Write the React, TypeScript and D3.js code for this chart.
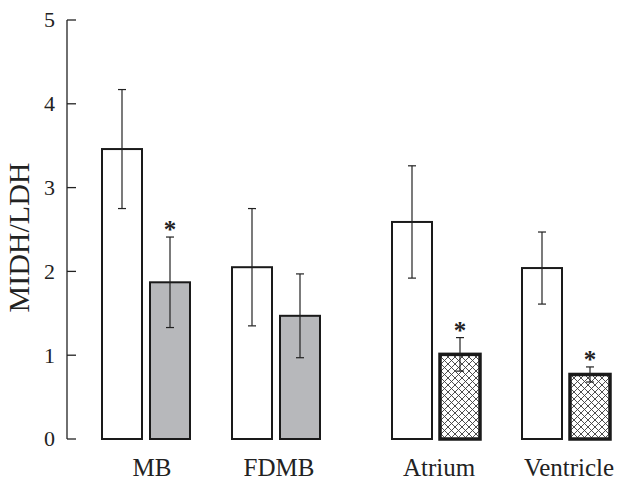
import React from 'react';
import * as d3 from 'd3';

// groups of the figure, two experiments side by side
const categories = ['MB', 'FDMB', 'Atrium', 'Ventricle'];
const sectionOf = ['s1', 's1', 's2', 's2'];
const controlMeans = [3.46, 2.05, 2.59, 2.04];
const controlErr = [0.71, 0.70, 0.67, 0.43];
const treatedMeans = [1.87, 1.47, 1.01, 0.77];
const treatedErr = [0.54, 0.50, 0.20, 0.09];
const significant = [true, false, true, true];
const yTicks = [0, 1, 2, 3, 4, 5];

const width = 618;
const height = 483;
const font = "'Liberation Serif', 'Times New Roman', Times, serif";
const ink = '#222';

const yScale = d3.scaleLinear().domain([0, 5]).range([439, 20]);

const sections = Array.from(new Set(sectionOf));
const xSection = d3.scaleBand()
    .domain(sections)
    .range([81, 631])
    .paddingInner(30 / 290);

const xGroup = d3.scaleBand()
    .domain(['0', '1'])
    .range([0, xSection.bandwidth()]);

const xPair = d3.scaleBand()
    .domain(['control', 'treated'])
    .range([21, 109])
    .paddingInner(8 / 48);

const localIndex = (i) => sectionOf.slice(0, i).filter(s => s === sectionOf[i]).length;
const groupX = (i) => xSection(sectionOf[i]) + xGroup(String(localIndex(i)));
const groupCenter = (i) => groupX(i) + xGroup.bandwidth() / 2;

const txt = { fontFamily: font };

const ErrorBar = ({ cx, mean, err }) => {
    const top = yScale(mean + err);
    const bottom = yScale(mean - err);
    return (
        <g stroke={ink} strokeWidth={1.2}>
            <line x1={cx} x2={cx} y1={top} y2={bottom} />
            <line x1={cx - 4} x2={cx + 4} y1={top} y2={top} />
            <line x1={cx - 4} x2={cx + 4} y1={bottom} y2={bottom} />
        </g>
    );
};

const App = () => {
    const axisX = 67;
    const bw = xPair.bandwidth();

    return (
        <svg width={width} height={height}
            style={{ position: 'absolute', left: 0, top: 0, display: 'block', background: '#fff' }}>
            <defs>
                <pattern id="xhatch" patternUnits="userSpaceOnUse" width={7} height={7}>
                    <rect width={7} height={7} fill="#fff" />
                    <path d="M0,0L7,7M7,0L0,7" stroke="#3a3a3a" strokeWidth={0.9} />
                </pattern>
            </defs>

            {/* y axis */}
            <g stroke={ink} strokeWidth={1.3}>
                <line x1={axisX} x2={axisX} y1={yScale(5)} y2={yScale(0)} />
                {yTicks.map(t => (
                    <line key={t} x1={axisX} x2={axisX + 9} y1={yScale(t)} y2={yScale(t)} />
                ))}
            </g>
            {yTicks.map(t => (
                <text key={t} x={55} y={yScale(t)} dy="0.34em" textAnchor="end"
                    style={{ ...txt, fontSize: 22 }} fill={ink}>{t}</text>
            ))}
            <text transform={`translate(29, ${(yScale(0) + yScale(5)) / 2 + 8}) rotate(-90)`}
                textAnchor="middle" style={{ ...txt, fontSize: 30 }} fill={ink}>MIDH/LDH</text>

            {categories.map((c, i) => {
                const gx = groupX(i);
                const first = sectionOf[i] === sections[0];
                const cxC = gx + xPair('control') + bw / 2;
                const cxT = gx + xPair('treated') + bw / 2;
                return (
                    <g key={c}>
                        <rect x={gx + xPair('control')} y={yScale(controlMeans[i])}
                            width={bw} height={yScale(0) - yScale(controlMeans[i])}
                            fill="#fff" stroke="#1a1a1a" strokeWidth={2} />
                        <rect x={gx + xPair('treated')} y={yScale(treatedMeans[i])}
                            width={bw} height={yScale(0) - yScale(treatedMeans[i])}
                            fill={first ? '#b7b8bb' : 'url(#xhatch)'}
                            stroke="#1a1a1a" strokeWidth={first ? 2 : 3.5} />
                        <ErrorBar cx={cxC} mean={controlMeans[i]} err={controlErr[i]} />
                        <ErrorBar cx={cxT} mean={treatedMeans[i]} err={treatedErr[i]} />
                        {significant[i] && (
                            <text x={cxT} y={yScale(treatedMeans[i] + treatedErr[i]) + 1}
                                textAnchor="middle" fill={ink}
                                style={{ ...txt, fontSize: 25, fontWeight: 'bold' }}>*</text>
                        )}
                        <text x={groupCenter(i) + (i === 0 ? 6 : 3)} y={476}
                            textAnchor="middle" style={{ ...txt, fontSize: 25 }} fill={ink}>{c}</text>
                    </g>
                );
            })}
        </svg>
    );
};

export default App;
